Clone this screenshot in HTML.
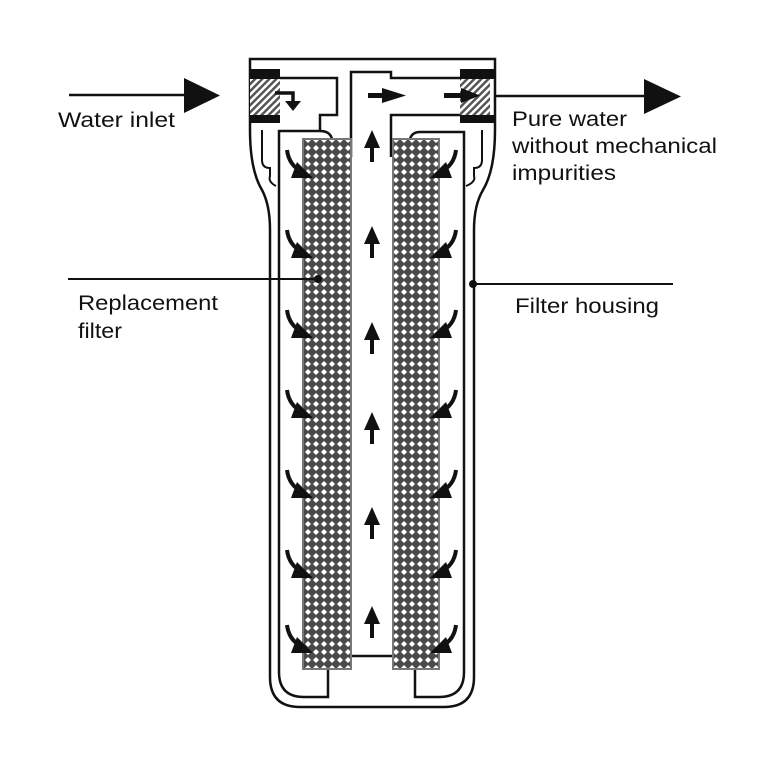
<!DOCTYPE html>
<html><head><meta charset="utf-8"><style>
html,body{margin:0;padding:0;background:#fff;}
svg{display:block;}
text{font-family:"Liberation Sans",Arial,sans-serif;font-size:21px;fill:#111;}
</style></head><body>
<svg width="760" height="783" viewBox="0 0 760 783" xmlns="http://www.w3.org/2000/svg">
<defs>
<pattern id="mesh" width="8" height="8" patternUnits="userSpaceOnUse">
<rect width="8" height="8" fill="#4a4a4a"/>
<polygon points="4,1 7,4 4,7 1,4" fill="#fff"/>
</pattern>
<pattern id="hatch" width="5" height="5" patternUnits="userSpaceOnUse" patternTransform="rotate(45)">
<rect width="5" height="5" fill="#fff"/><rect width="2.5" height="5" fill="#555"/>
</pattern>
<g id="ca">
<path d="M0 0 Q2 16 16 22" fill="none" stroke="#111" stroke-width="4"/>
<polygon points="10,12 26,28 4,28" fill="#111"/>
</g>
<g id="ua">
<rect x="-2" y="8" width="4" height="18" fill="#111"/>
<polygon points="-8,12 0,-6 8,12" fill="#111"/>
</g>
</defs>
<g fill="none" stroke="#111" stroke-width="2.5">
<path d="M250 130 L250 59 L495 59 L495 130"/>
<path d="M280 78 L337 78 L337 115 L320 115 L320 131 L279 131 L279 672 Q279 697 304 697 L328 697 L328 669"/>
<path d="M320 131 Q330 131 332 139"/>
<path d="M351 157 L351 72 L391 72 L391 78 L460 78"/>
<path d="M460 115 L391 115 L391 157"/>
<path d="M351 656 L393 656"/>
<path d="M410 139 Q412 132 420 132 L464 132 L464 672 Q464 697 439 697 L415 697 L415 669"/>
<path d="M250 130 Q250 170 262 190 Q270 205 270 230 L270 677 Q270 707 300 707 L444 707 Q474 707 474 677 L474 230 Q474 205 483 190 Q495 170 495 130"/>
<path d="M262 130 L262 160 Q262 168 270 168 L270 176 Q268 182 276 186" stroke-width="2"/>
<path d="M482 130 L482 160 Q482 168 474 168 L474 176 Q476 182 466 186" stroke-width="2"/>
</g>
<rect x="250" y="69" width="30" height="10" fill="#111"/>
<rect x="250" y="79" width="30" height="36" fill="url(#hatch)"/>
<rect x="250" y="115" width="30" height="8" fill="#111"/>
<rect x="460" y="69" width="35" height="10" fill="#111"/>
<rect x="460" y="79" width="30" height="36" fill="url(#hatch)"/>
<rect x="460" y="115" width="35" height="8" fill="#111"/>
<rect x="303" y="139" width="48" height="530" fill="url(#mesh)" stroke="#777" stroke-width="2"/>
<rect x="393" y="139" width="46" height="530" fill="url(#mesh)" stroke="#777" stroke-width="2"/>
<path d="M275 93 L293 93 L293 103" fill="none" stroke="#111" stroke-width="3.5"/>
<polygon points="285,101 301,101 293,111" fill="#111"/>
<rect x="368" y="93" width="16" height="5" fill="#111"/>
<polygon points="382,88 406,95.5 382,103" fill="#111"/>
<rect x="444" y="93" width="20" height="5" fill="#111"/>
<polygon points="461,88 480,95.5 461,103" fill="#111"/>
<line x1="69" y1="95" x2="186" y2="95" stroke="#111" stroke-width="2.5"/>
<polygon points="184,78 220,95.5 184,113" fill="#111"/>
<line x1="495" y1="96" x2="646" y2="96" stroke="#111" stroke-width="2.5"/>
<polygon points="644,79 681,96.5 644,114" fill="#111"/>
<g>
<use href="#ca" x="287" y="150"/><use href="#ca" x="287" y="230"/><use href="#ca" x="287" y="310"/>
<use href="#ca" x="287" y="390"/><use href="#ca" x="287" y="470"/><use href="#ca" x="287" y="550"/>
<use href="#ca" x="287" y="625"/>
</g>
<g transform="translate(743 0) scale(-1 1)">
<use href="#ca" x="287" y="150"/><use href="#ca" x="287" y="230"/><use href="#ca" x="287" y="310"/>
<use href="#ca" x="287" y="390"/><use href="#ca" x="287" y="470"/><use href="#ca" x="287" y="550"/>
<use href="#ca" x="287" y="625"/>
</g>
<use href="#ua" x="372" y="136"/><use href="#ua" x="372" y="232"/><use href="#ua" x="372" y="328"/>
<use href="#ua" x="372" y="418"/><use href="#ua" x="372" y="513"/><use href="#ua" x="372" y="612"/>
<line x1="68" y1="279" x2="318" y2="279" stroke="#111" stroke-width="2"/>
<circle cx="318" cy="279" r="4" fill="#111"/>
<line x1="473" y1="284" x2="673" y2="284" stroke="#111" stroke-width="2"/>
<circle cx="473" cy="284" r="4" fill="#111"/>
<text x="58" y="127" textLength="117" lengthAdjust="spacingAndGlyphs">Water inlet</text>
<text x="512" y="126" textLength="115" lengthAdjust="spacingAndGlyphs">Pure water</text>
<text x="512" y="153" textLength="205" lengthAdjust="spacingAndGlyphs">without mechanical</text>
<text x="512" y="180" textLength="104" lengthAdjust="spacingAndGlyphs">impurities</text>
<text x="78" y="310" textLength="140" lengthAdjust="spacingAndGlyphs">Replacement</text>
<text x="78" y="338" textLength="44" lengthAdjust="spacingAndGlyphs">filter</text>
<text x="515" y="313" textLength="144" lengthAdjust="spacingAndGlyphs">Filter housing</text>
</svg>
</body></html>
